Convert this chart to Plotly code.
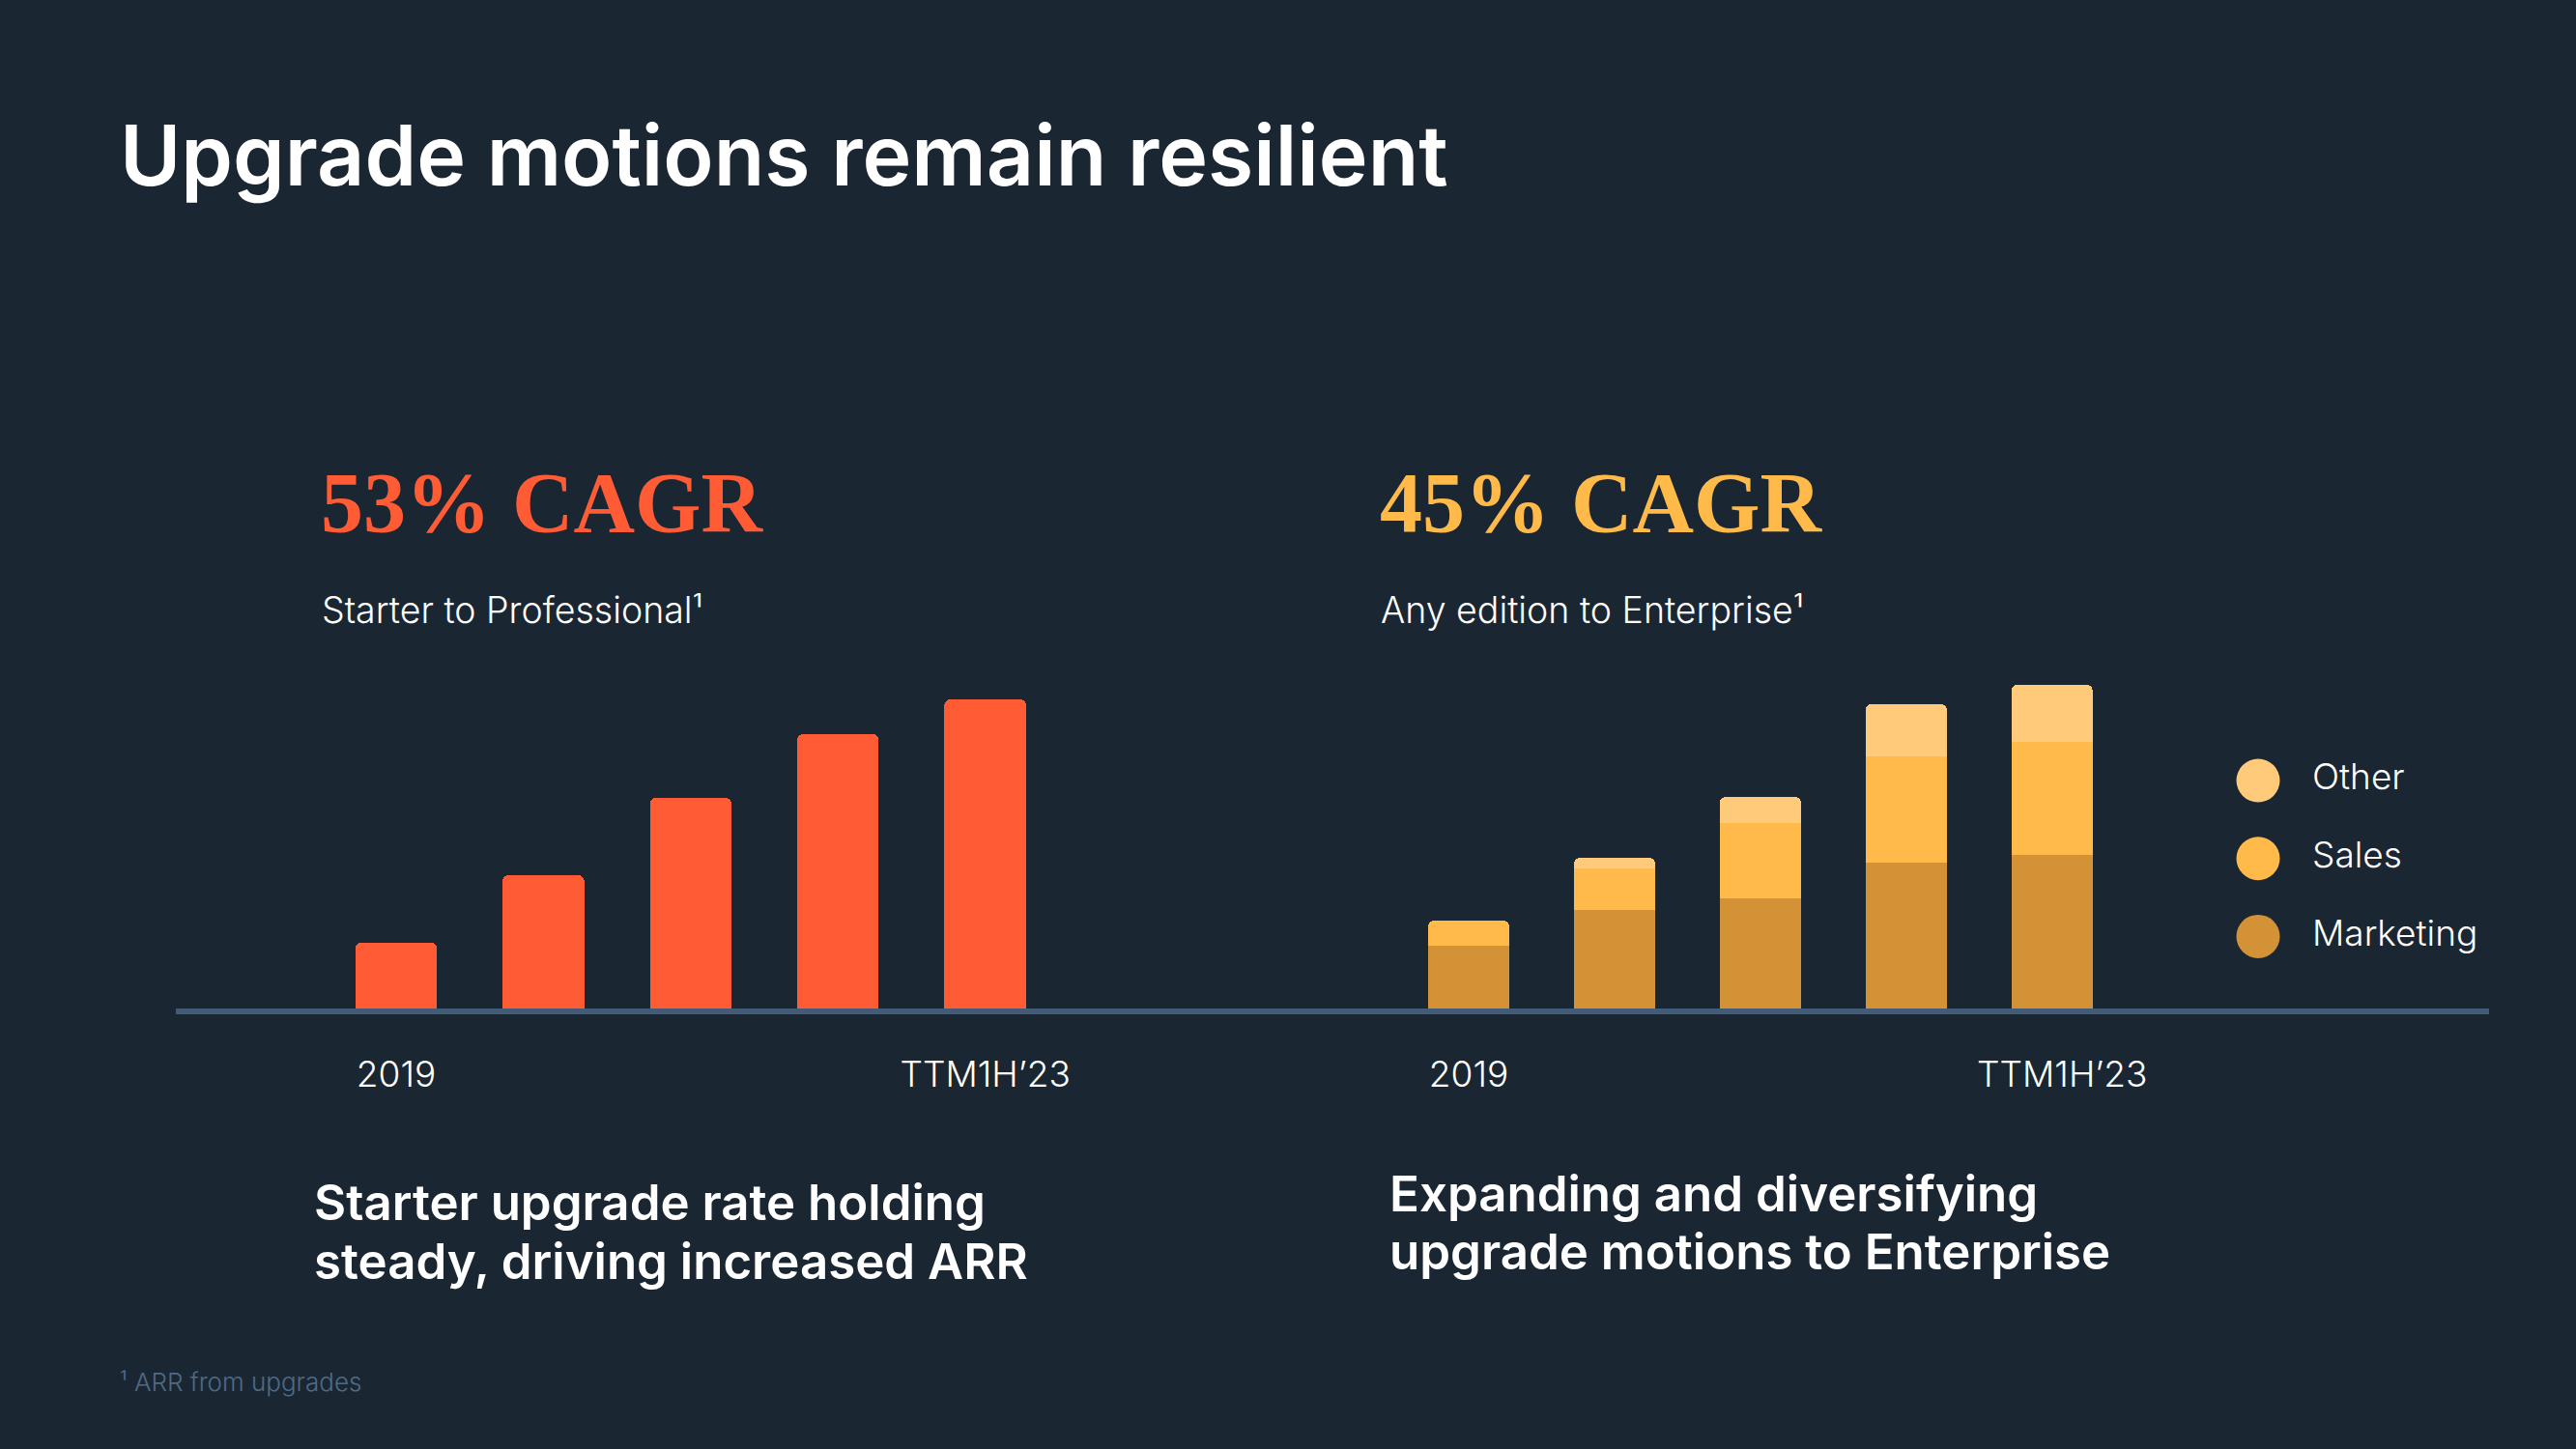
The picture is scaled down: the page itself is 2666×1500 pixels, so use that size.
import plotly.graph_objects as go

# ---------------- data ----------------
periods = ["2019", "2020", "2021", "2022", "TTM1H’23"]
tick_labels = ["2019", "TTM1H’23"]

starter_to_pro = [68, 138, 218, 284, 320]          # ARR from upgrades (relative units)

ent_marketing = [65, 102, 114, 151, 159]
ent_sales = [26, 43, 78, 110, 117]
ent_other = [0, 11, 27, 54, 59]

legend_names = ["Other", "Sales", "Marketing"]

# ---------------- styles ----------------
W, H = 2666, 1500
BG = "#1b2633"
ORANGE = "#ff5c35"
C_OTHER = "#ffca79"
C_SALES = "#ffba4a"
C_MKT = "#d29235"
LINE = "#425b76"
SANS = "Inter"
SERIF = "Liberation Serif"
legend_colors = [C_OTHER, C_SALES, C_MKT]


def px_x(p):
    return p / W


def px_y(p):
    return 1 - p / H


fig = go.Figure()

fig.add_trace(go.Bar(
    x=periods, y=starter_to_pro, marker=dict(color=ORANGE, cornerradius=6, line_width=0),
    width=0.554, xaxis="x", yaxis="y", showlegend=False, hoverinfo="skip",
))

for name, vals, col in [("Marketing", ent_marketing, C_MKT),
                        ("Sales", ent_sales, C_SALES),
                        ("Other", ent_other, C_OTHER)]:
    fig.add_trace(go.Bar(
        x=periods, y=vals, name=name,
        marker=dict(color=col, cornerradius=6, line_width=0),
        width=0.556, xaxis="x2", yaxis="y2", showlegend=False, hoverinfo="skip",
    ))

# custom legend (large circles)
fig.add_trace(go.Scatter(
    x=[0, 0, 0], y=[0, 1, 2], mode="markers",
    marker=dict(size=45, color=legend_colors, line_width=0),
    xaxis="x3", yaxis="y3", showlegend=False, hoverinfo="skip",
))
fig.add_trace(go.Scatter(
    x=[56, 56, 56], y=[0, 1, 2], mode="text", text=legend_names,
    textposition="middle right",
    textfont=dict(family=SANS, size=37, color="white", weight=300),
    xaxis="x3", yaxis="y3", showlegend=False, hoverinfo="skip",
))

x_split = 1379
y_bottom = 1044
y_top = 700
yrange = [0, y_bottom - y_top]

xaxis_common = dict(
    type="category", showgrid=False, zeroline=False,
    showline=True, linecolor=LINE, linewidth=6,
    ticks="", tickmode="array", tickvals=tick_labels,
    tickfont=dict(family=SANS, size=37, color="white", weight=300),
    ticklabelstandoff=31, fixedrange=True,
)

fig.update_layout(
    width=W, height=H,
    paper_bgcolor=BG, plot_bgcolor=BG,
    margin=dict(l=0, r=0, t=0, b=0),
    barmode="stack",
    showlegend=False,
    xaxis=dict(**xaxis_common, ticktext=tick_labels,
               domain=[px_x(182), px_x(x_split)],
               range=[-(410 - 182) / 152.4, (x_split - 410) / 152.4]),
    xaxis2=dict(**xaxis_common,
                ticktext=[tick_labels[0], "\u00a0\u00a0" + tick_labels[1]],
                domain=[px_x(x_split), px_x(2576)],
                range=[-(1520 - x_split) / 150.95, (2576 - 1520) / 150.95]),
    yaxis=dict(domain=[px_y(y_bottom), px_y(y_top)], range=yrange, visible=False, fixedrange=True),
    yaxis2=dict(domain=[px_y(y_bottom), px_y(y_top)], range=yrange, visible=False,
                anchor="x2", fixedrange=True),
    xaxis3=dict(domain=[px_x(2300), px_x(2600)], range=[-37, 263], visible=False,
                anchor="y3", fixedrange=True),
    yaxis3=dict(domain=[px_y(1010), px_y(760)], range=[2.503, -0.595], visible=False,
                anchor="x3", fixedrange=True),
)

# ---------------- text ----------------
def note(text, x, y, size, color="white", family=SANS, weight=400, anchor="left", yanchor="middle"):
    fig.add_annotation(
        text=text, x=px_x(x), y=px_y(y), xref="paper", yref="paper",
        xanchor=anchor, yanchor=yanchor, showarrow=False, align="left",
        font=dict(family=family, size=size, color=color, weight=weight),
    )


note("Upgrade motions remain resilient", 122, 161, 86, weight=600)

note("53% CAGR", 330, 521, 88, color=ORANGE, family=SERIF, weight=700)
note("45% CAGR", 1426, 521, 88, color="#ffba4a", family=SERIF, weight=700)

note("Starter to Professional¹", 331, 631, 37.5, weight=300)
note("Any edition to Enterprise¹", 1427, 631, 37.5, weight=300)

note("Starter upgrade rate holding", 323, 1244, 51, weight=600)
note("steady, driving increased ARR", 323, 1305, 51, weight=600)
note("Expanding and diversifying", 1436, 1235, 51, weight=600)
note("upgrade motions to Enterprise", 1436, 1295, 51, weight=600)

note("¹ ARR from upgrades", 122, 1430, 26, color="#4f6a85", weight=300)

fig.write_html("out.html", post_script="document.body.style.margin='0';",
               config={"displayModeBar": False})
